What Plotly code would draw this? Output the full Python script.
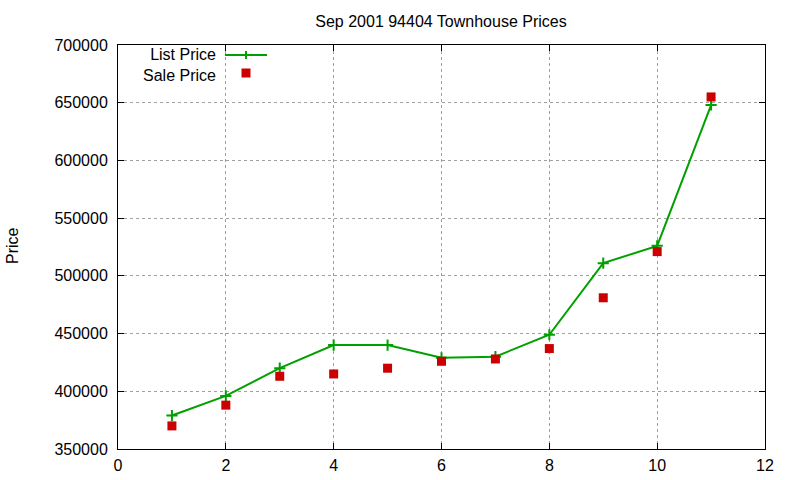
import plotly.graph_objects as go

months = [1, 2, 3, 4, 5, 6, 7, 8, 9, 10, 11]
list_price = [379000, 396000, 420000, 440000, 440000, 429000, 430000, 449000, 511000, 526000, 648000]
sale_price = [370000, 388000, 413000, 415000, 420000, 426000, 428000, 437000, 481000, 521000, 655000]
x_ticks = [0, 2, 4, 6, 8, 10, 12]
y_ticks = [350000, 400000, 450000, 500000, 550000, 600000, 650000, 700000]

GREEN = "#00a000"
RED = "#cc0000"
FONT = "Liberation Sans, Arial, sans-serif"
FS = 16

fig = go.Figure()
fig.add_trace(go.Scatter(
    x=months, y=list_price, mode="lines+markers", name="List Price",
    line=dict(color=GREEN, width=2),
    marker=dict(symbol="cross-thin", size=8, line=dict(color=GREEN, width=2), color=GREEN),
))
fig.add_trace(go.Scatter(
    x=months, y=sale_price, mode="markers", name="Sale Price",
    marker=dict(symbol="square", size=9, color=RED, line=dict(width=0)),
))

L, R, T, B = 118, 35, 45, 31
W, H = 800, 480
pw, ph = W - L - R, H - T - B

def px(xp):
    return (xp - L) / pw

def py(yp):
    return (H - B - yp) / ph

LY1, LY2 = 55, 73
shapes = [
    dict(type="line", xref="paper", yref="paper", x0=px(225), x1=px(267), y0=py(LY1), y1=py(LY1),
         line=dict(color=GREEN, width=2)),
    dict(type="line", xref="paper", yref="paper", x0=px(246), x1=px(246), y0=py(LY1 - 4), y1=py(LY1 + 4),
         line=dict(color=GREEN, width=2)),
    dict(type="rect", xref="paper", yref="paper", x0=px(241.5), x1=px(250.5), y0=py(LY2 - 4.5), y1=py(LY2 + 4.5),
         fillcolor=RED, line=dict(width=0)),
]
annotations = [
    dict(text="List Price<br>Sale Price", xref="paper", yref="paper", x=px(218), y=py(65), xanchor="right",
         yanchor="middle", align="right", showarrow=False,
         font=dict(family=FONT, size=FS, color="black")),
    dict(text="Price", xref="paper", yref="paper", x=px(12), y=py(246), xanchor="center",
         yanchor="middle", textangle=-90, showarrow=False, font=dict(family=FONT, size=FS, color="black")),
]

axis_common = dict(
    showline=True, linecolor="black", linewidth=1, mirror="allticks",
    ticks="inside", ticklen=6, tickcolor="black", tickwidth=1,
    showgrid=True, gridcolor="#a0a0a0", griddash="dot", gridwidth=1,
    zeroline=False, automargin=False,
    tickfont=dict(family=FONT, size=FS, color="black"),
)

fig.update_layout(
    width=W, height=H,
    margin=dict(l=L, r=R, t=T, b=B),
    paper_bgcolor="white", plot_bgcolor="white",
    showlegend=False,
    title=dict(text="Sep 2001 94404 Townhouse Prices", x=(315 + 567) / 2 / W, xanchor="center",
               y=1 - 21 / H, yanchor="middle", font=dict(family=FONT, size=FS, color="black")),
    xaxis=dict(range=[0, 12], tickvals=x_ticks, ticktext=[str(v) for v in x_ticks],
               ticklabelstandoff=2, **axis_common),
    yaxis=dict(range=[350000, 700000], tickvals=y_ticks, ticktext=[str(v) for v in y_ticks],
               ticklabelstandoff=6, **axis_common),
    shapes=shapes, annotations=annotations,
)

fig.write_html("out.html")
